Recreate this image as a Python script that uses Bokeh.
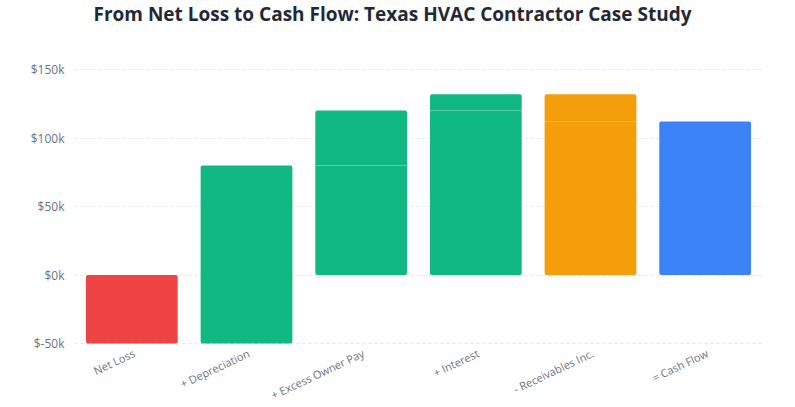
from bokeh.plotting import figure
from bokeh.models import ColumnDataSource, FactorRange, Range1d, CustomJSTickFormatter, FixedTicker, LabelSet, Label
from bokeh.core.properties import value
from bokeh.embed import file_html
from bokeh.resources import INLINE

# Waterfall steps from net loss to operating cash flow (USD)
categories = ["Net Loss", "+ Depreciation", "+ Excess Owner Pay", "+ Interest",
              "- Receivables Inc.", "= Cash Flow"]
step_start = [-50000, -50000, 80000, 120000, 132000, 0]
step_end = [0, 80000, 120000, 132000, 112000, 112000]
colors = ["#ef4444", "#10b981", "#10b981", "#10b981", "#f59e0b", "#3b82f6"]
y_ticks = [-50000, 0, 50000, 100000, 150000]
y_min, y_max = -50000, 150000
title_text = "From Net Loss to Cash Flow: Texas HVAC Contractor Case Study"

lower = [min(a, b) for a, b in zip(step_start, step_end)]
upper = [max(a, b) for a, b in zip(step_start, step_end)]

# each bar rests on zero (or reaches below it) and a thin divider marks where the step began
bars = ColumnDataSource(dict(
    cat=categories,
    bottom=[min(lo, 0) for lo in lower],
    top=upper,
    color=colors,
))
div_cats = [c for c, lo in zip(categories, lower) if lo > 0]
div_vals = [lo for lo in lower if lo > 0]
dividers = ColumnDataSource(dict(cat=div_cats, y=div_vals))
cat_labels = ColumnDataSource(dict(cat=categories, y=[y_min] * len(categories)))

# page layout in pixels: value grid occupies rows 69..343 of a 407px tall canvas
W, H = 795, 407
grid_top_px, grid_bottom_px = 69, 343
per_px = (y_max - y_min) / (grid_bottom_px - grid_top_px)
view_top = y_max + grid_top_px * per_px
view_bottom = y_min - (H - grid_bottom_px) * per_px

p = figure(
    width=W, height=H,
    x_range=FactorRange(*categories, range_padding=0.0),
    y_range=Range1d(view_bottom, view_top),
    output_backend="svg", toolbar_location=None,
    min_border_left=74, min_border_right=33, min_border_top=0, min_border_bottom=0,
)
p.x_range.factor_padding = 0.0

p.vbar(x="cat", bottom="bottom", top="top", width=0.8, color="color",
       line_color=None, source=bars, border_radius=2)
p.rect(x="cat", y="y", width=0.8, height=1, height_units="screen",
       color="white", alpha=0.3, line_color=None, source=dividers)

# slanted category names under the bars
p.add_layout(LabelSet(x="cat", y="y", text="cat", source=cat_labels,
                      angle=0.44, text_align="right", text_baseline="top",
                      x_offset=-1, y_offset=-2,
                      text_font=value("Open Sans"), text_font_size="11px",
                      text_color="#6b7280"))

# chart heading
p.add_layout(Label(x=318, y=H - 13, x_units="screen", y_units="screen", text=title_text,
                   text_align="center", text_baseline="middle",
                   text_font="Open Sans", text_font_size="19px", text_font_style="bold",
                   text_color="#1f2937"))

p.outline_line_color = None
p.background_fill_color = "white"
p.border_fill_color = "white"

p.xgrid.grid_line_color = None
p.ygrid.grid_line_color = "#e5e7eb"
p.ygrid.grid_line_dash = "3 3"
p.ygrid.grid_line_width = 1

p.xaxis.visible = False
p.yaxis.ticker = FixedTicker(ticks=y_ticks)
p.yaxis.formatter = CustomJSTickFormatter(code="return '$' + (tick / 1000).toFixed(0) + 'k';")
p.yaxis.axis_line_color = None
p.yaxis.major_tick_line_color = None
p.yaxis.minor_tick_line_color = None
p.yaxis.major_label_text_font = "Open Sans"
p.yaxis.major_label_text_color = "#6b7280"
p.yaxis.major_label_text_font_size = "12px"
p.yaxis.major_label_standoff = 4

open("out.html", "w").write(file_html(p, INLINE))
